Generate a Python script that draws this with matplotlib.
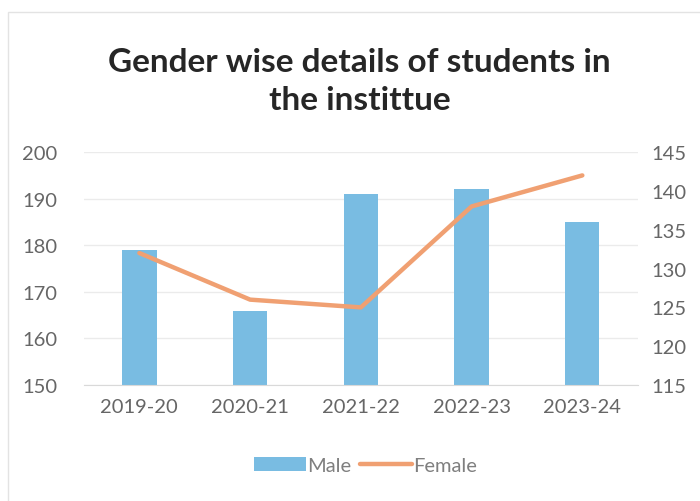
import numpy as np
import matplotlib
matplotlib.use("Agg")
import matplotlib.pyplot as plt
from matplotlib.patches import Rectangle

# Dati
years = ["2019-20", "2020-21", "2021-22", "2022-23", "2023-24"]
male = [179, 166, 191, 192, 185]
female = [132, 126, 125, 138, 142]

left_ticks = [150, 160, 170, 180, 190, 200]
right_ticks = [115, 120, 125, 130, 135, 140, 145]

plt.rcParams['font.family'] = ['Lato', 'DejaVu Sans']

bar_col = '#79BCE2'
line_col = '#F0A072'
txt_col = '#666666'

fig = plt.figure(figsize=(7.0, 5.02), dpi=100)
ax = fig.add_axes([0.12, 0.231, 0.791, 0.464])

x = np.arange(len(years))
ax.bar(x, male, width=0.31, color=bar_col, label='Male', zorder=2)
ax.set_ylim(150, 200)
ax.set_yticks(left_ticks)
ax.set_xlim(-0.5, len(years) - 0.5)
ax.set_xticks(x)
ax.set_xticklabels(years)
ax.grid(axis='y', color='#ebebeb', linewidth=1, zorder=0)
for s in ['top', 'right', 'left']:
    ax.spines[s].set_visible(False)
ax.spines['bottom'].set_color('#d9d9d9')
ax.tick_params(axis='both', length=0, labelsize=14.5, colors=txt_col, pad=9)
ax.tick_params(axis='y', pad=19)

ax2 = ax.twinx()
ax2.plot(x, female, color=line_col, linewidth=3.2, label='Female',
         solid_capstyle='round', zorder=3)
ax2.set_ylim(115, 145)
ax2.set_yticks(right_ticks)
for s in ax2.spines.values():
    s.set_visible(False)
ax2.tick_params(axis='y', length=0, labelsize=14.5, colors=txt_col, pad=10)

# Titolo
fig.text(0.514, 0.838, "Gender wise details of students in\nthe instittue",
         ha='center', va='center', fontsize=24, fontweight='bold',
         color='#262626', linespacing=1.35)

# Legenda
h1, l1 = ax.get_legend_handles_labels()
h2, l2 = ax2.get_legend_handles_labels()
fig.legend(h1 + h2, l1 + l2, loc='center', bbox_to_anchor=(0.522, 0.07),
           ncol=2, frameon=False, fontsize=14.5, labelcolor='#7f7f7f',
           handlelength=2.6, columnspacing=0.4, handletextpad=0.05)

# Bordo del grafico
fig.patches.append(Rectangle((0.012, -0.01), 1.0, 0.985, transform=fig.transFigure,
                             fill=False, edgecolor='#e3e3e3', linewidth=1))

fig.savefig("out.png", dpi=100)
